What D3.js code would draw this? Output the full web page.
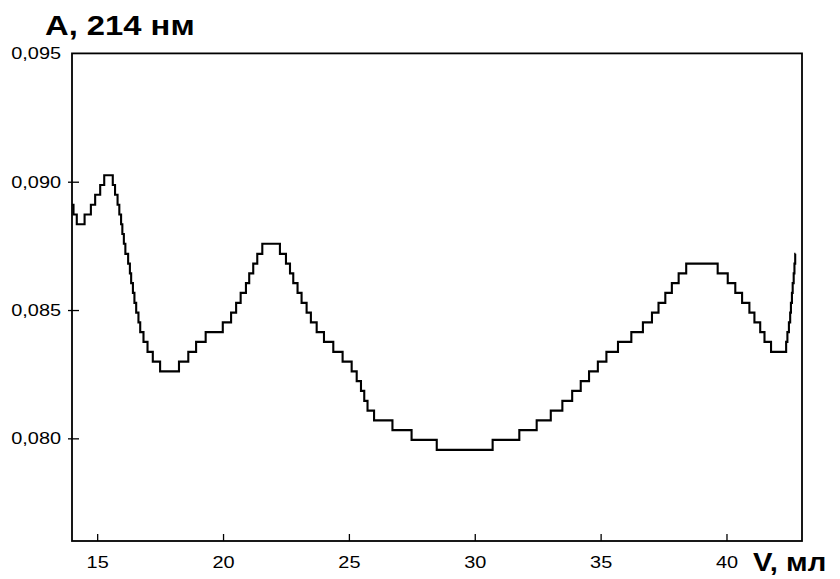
<!DOCTYPE html>
<html>
<head>
<meta charset="utf-8">
<script src="https://cdn.jsdelivr.net/npm/d3@7"></script>
<style>
  body { margin: 0; background: #fff; }
  text { font-family: "Liberation Sans", Arial, sans-serif; fill: #000; }
</style>
</head>
<body>
<svg id="chart" width="840" height="579"></svg>
<script>
// Elution volume (ml) at which each recorded absorbance level begins
const volume = [
  14.00, 14.06, 14.19, 14.50, 14.75, 14.92, 15.12, 15.28, 15.62, 15.71,
  15.81, 15.88, 15.95, 16.00, 16.06, 16.12, 16.17, 16.23, 16.30, 16.35,
  16.42, 16.48, 16.55, 16.64, 16.71, 16.84, 17.00, 17.21, 17.50, 18.25,
  18.62, 18.93, 19.31, 19.99, 20.32, 20.52, 20.70, 20.91, 21.04, 21.20,
  21.36, 21.56, 22.26, 22.50, 22.66, 22.79, 22.96, 23.12, 23.32, 23.49,
  23.72, 24.01, 24.38, 24.75, 25.11, 25.31, 25.48, 25.61, 25.74, 26.00,
  26.73, 27.49, 28.49, 30.71, 31.77, 32.46, 33.02, 33.48, 33.87, 34.21,
  34.54, 34.89, 35.23, 35.69, 36.22, 36.68, 37.04, 37.30, 37.57, 37.83,
  38.10, 38.40, 39.65, 40.05, 40.35, 40.62, 40.91, 41.11, 41.34, 41.51,
  41.77, 42.37, 42.42, 42.48, 42.53, 42.56, 42.60, 42.63, 42.67, 42.70,
  42.73, 42.74
];

// Absorbance at 214 nm for each step
const absorbance = [
  0.08910, 0.08872, 0.08834, 0.08872, 0.08910, 0.08949, 0.08987, 0.09025, 0.08987, 0.08949,
  0.08910, 0.08872, 0.08834, 0.08796, 0.08758, 0.08719, 0.08719, 0.08681, 0.08643, 0.08605,
  0.08567, 0.08528, 0.08490, 0.08452, 0.08414, 0.08376, 0.08337, 0.08299, 0.08261, 0.08299,
  0.08337, 0.08376, 0.08414, 0.08452, 0.08490, 0.08528, 0.08567, 0.08605, 0.08643, 0.08681,
  0.08719, 0.08758, 0.08719, 0.08681, 0.08643, 0.08605, 0.08567, 0.08528, 0.08490, 0.08452,
  0.08414, 0.08376, 0.08337, 0.08299, 0.08261, 0.08223, 0.08185, 0.08146, 0.08108, 0.08070,
  0.08032, 0.07994, 0.07955, 0.07994, 0.08032, 0.08070, 0.08108, 0.08146, 0.08185, 0.08223,
  0.08261, 0.08299, 0.08337, 0.08376, 0.08414, 0.08452, 0.08490, 0.08528, 0.08567, 0.08605,
  0.08643, 0.08681, 0.08643, 0.08605, 0.08567, 0.08528, 0.08490, 0.08452, 0.08414, 0.08376,
  0.08337, 0.08376, 0.08414, 0.08452, 0.08490, 0.08528, 0.08567, 0.08605, 0.08643, 0.08681,
  0.08719, 0.08719
];

const xTicks = [15, 20, 25, 30, 35, 40];
const yTicks = [0.080, 0.085, 0.090, 0.095];
const yTitle = "A, 214 нм";
const xTitle = "V, мл";

const stretch = 1.17; // glyphs are drawn slightly wide
const svg = d3.select("#chart");

const x = d3.scaleLinear().domain([14, 43]).range([72, 802]);
const y = d3.scaleLinear().domain([0.076, 0.095]).range([541, 53.4]);

const ruFormat = d3.formatLocale({ decimal: ",", thousands: " ", grouping: [3], currency: ["", ""] }).format(".3f");

// bottom axis: inward ticks
const gx = svg.append("g")
  .attr("transform", `translate(0,${y.range()[0]})`)
  .call(d3.axisBottom(x).tickValues(xTicks).tickSizeInner(-7).tickSizeOuter(0).tickPadding(15));
gx.select(".domain").remove();
gx.selectAll(".tick line").attr("stroke", "#000").attr("stroke-width", 1.3);
gx.selectAll(".tick text")
  .attr("font-size", 17).attr("font-family", null)
  .attr("transform", `scale(${stretch},1)`);

// left axis: ticks crossing the frame line
const gy = svg.append("g")
  .attr("transform", `translate(${x.range()[0]},0)`)
  .call(d3.axisLeft(y).tickValues(yTicks).tickFormat(ruFormat).tickSizeInner(-7).tickSizeOuter(0).tickPadding(9.4));
gy.select(".domain").remove();
gy.selectAll(".tick line")
  .attr("x1", -4).attr("x2", 7)
  .attr("stroke", "#000").attr("stroke-width", 1.3)
  .filter(d => d === 0.095).remove();
gy.selectAll(".tick text")
  .attr("font-size", 17).attr("font-family", null)
  .attr("transform", `scale(${stretch},1)`);

// plot frame
svg.append("rect")
  .attr("x", x.range()[0]).attr("y", y.range()[1])
  .attr("width", x.range()[1] - x.range()[0])
  .attr("height", y.range()[0] - y.range()[1])
  .attr("fill", "none").attr("stroke", "#000").attr("stroke-width", 1.8);

// absorbance trace (quantised detector output)
const points = volume.map((v, i) => [v, absorbance[i]]);
const line = d3.line()
  .x(d => x(d[0])).y(d => y(d[1]))
  .curve(d3.curveStepAfter);
svg.append("path")
  .datum(points)
  .attr("d", line)
  .attr("fill", "none").attr("stroke", "#000")
  .attr("stroke-width", 2.1).attr("stroke-linejoin", "miter");

// axis titles
svg.append("text")
  .attr("transform", `translate(45,35) scale(${stretch},1)`)
  .attr("font-size", 28).attr("font-weight", "bold")
  .text(yTitle);
svg.append("text")
  .attr("transform", `translate(753,571) scale(${stretch},1)`)
  .attr("font-size", 25).attr("font-weight", "bold")
  .text(xTitle);
</script>
</body>
</html>
